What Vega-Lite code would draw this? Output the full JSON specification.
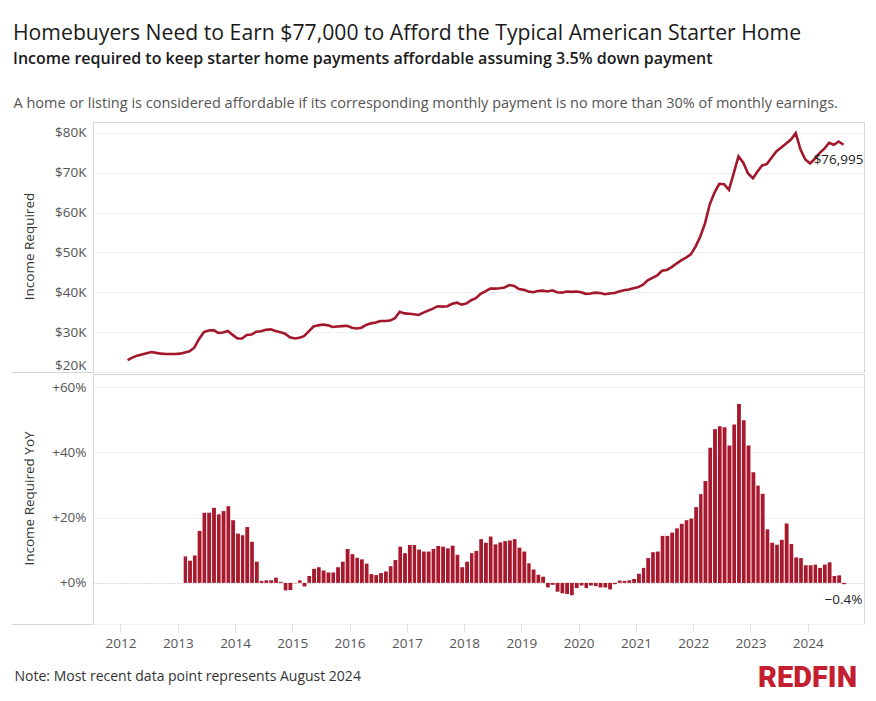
{
  "$schema": "https://vega.github.io/schema/vega-lite/v6.json",
  "background": "white",
  "padding": {"left": 10, "top": 22, "right": 6, "bottom": 10},
  "title": {
    "text": "Homebuyers Need to Earn $77,000 to Afford the Typical American Starter Home",
    "subtitle": "Income required to keep starter home payments affordable assuming 3.5% down payment",
    "anchor": "start",
    "dx": 3,
    "fontSize": 21.2,
    "fontWeight": "normal",
    "color": "#1a1a1a",
    "subtitleFontSize": 16,
    "subtitleFontWeight": 600,
    "subtitleColor": "#1a1a1a",
    "subtitlePadding": 7,
    "offset": 28
  },
  "datasets": {
    "monthly": [
      {"m": "2012-02-01", "income": 23000, "yoy": null},
      {"m": "2012-03-01", "income": 23600, "yoy": null},
      {"m": "2012-04-01", "income": 24100, "yoy": null},
      {"m": "2012-05-01", "income": 24400, "yoy": null},
      {"m": "2012-06-01", "income": 24700, "yoy": null},
      {"m": "2012-07-01", "income": 25000, "yoy": null},
      {"m": "2012-08-01", "income": 24800, "yoy": null},
      {"m": "2012-09-01", "income": 24600, "yoy": null},
      {"m": "2012-10-01", "income": 24500, "yoy": null},
      {"m": "2012-11-01", "income": 24500, "yoy": null},
      {"m": "2012-12-01", "income": 24500, "yoy": null},
      {"m": "2013-01-01", "income": 24600, "yoy": null},
      {"m": "2013-02-01", "income": 24900, "yoy": 0.081},
      {"m": "2013-03-01", "income": 25200, "yoy": 0.068},
      {"m": "2013-04-01", "income": 26100, "yoy": 0.084},
      {"m": "2013-05-01", "income": 28300, "yoy": 0.159},
      {"m": "2013-06-01", "income": 30000, "yoy": 0.215},
      {"m": "2013-07-01", "income": 30400, "yoy": 0.215},
      {"m": "2013-08-01", "income": 30500, "yoy": 0.230},
      {"m": "2013-09-01", "income": 29800, "yoy": 0.210},
      {"m": "2013-10-01", "income": 29900, "yoy": 0.220},
      {"m": "2013-11-01", "income": 30300, "yoy": 0.235},
      {"m": "2013-12-01", "income": 29300, "yoy": 0.192},
      {"m": "2014-01-01", "income": 28400, "yoy": 0.151},
      {"m": "2014-02-01", "income": 28400, "yoy": 0.146},
      {"m": "2014-03-01", "income": 29300, "yoy": 0.171},
      {"m": "2014-04-01", "income": 29400, "yoy": 0.126},
      {"m": "2014-05-01", "income": 30100, "yoy": 0.065},
      {"m": "2014-06-01", "income": 30200, "yoy": 0.006},
      {"m": "2014-07-01", "income": 30600, "yoy": 0.008},
      {"m": "2014-08-01", "income": 30700, "yoy": 0.008},
      {"m": "2014-09-01", "income": 30300, "yoy": 0.016},
      {"m": "2014-10-01", "income": 30000, "yoy": 0.003},
      {"m": "2014-11-01", "income": 29600, "yoy": -0.023},
      {"m": "2014-12-01", "income": 28700, "yoy": -0.022},
      {"m": "2015-01-01", "income": 28400, "yoy": -0.001},
      {"m": "2015-02-01", "income": 28600, "yoy": 0.008},
      {"m": "2015-03-01", "income": 29000, "yoy": -0.011},
      {"m": "2015-04-01", "income": 30200, "yoy": 0.021},
      {"m": "2015-05-01", "income": 31400, "yoy": 0.043},
      {"m": "2015-06-01", "income": 31700, "yoy": 0.048},
      {"m": "2015-07-01", "income": 31900, "yoy": 0.038},
      {"m": "2015-08-01", "income": 31700, "yoy": 0.032},
      {"m": "2015-09-01", "income": 31300, "yoy": 0.032},
      {"m": "2015-10-01", "income": 31400, "yoy": 0.048},
      {"m": "2015-11-01", "income": 31500, "yoy": 0.065},
      {"m": "2015-12-01", "income": 31600, "yoy": 0.104},
      {"m": "2016-01-01", "income": 31100, "yoy": 0.088},
      {"m": "2016-02-01", "income": 30900, "yoy": 0.077},
      {"m": "2016-03-01", "income": 31100, "yoy": 0.072},
      {"m": "2016-04-01", "income": 31800, "yoy": 0.059},
      {"m": "2016-05-01", "income": 32200, "yoy": 0.027},
      {"m": "2016-06-01", "income": 32400, "yoy": 0.024},
      {"m": "2016-07-01", "income": 32800, "yoy": 0.030},
      {"m": "2016-08-01", "income": 32800, "yoy": 0.035},
      {"m": "2016-09-01", "income": 32900, "yoy": 0.051},
      {"m": "2016-10-01", "income": 33500, "yoy": 0.070},
      {"m": "2016-11-01", "income": 35100, "yoy": 0.111},
      {"m": "2016-12-01", "income": 34700, "yoy": 0.091},
      {"m": "2017-01-01", "income": 34600, "yoy": 0.116},
      {"m": "2017-02-01", "income": 34500, "yoy": 0.116},
      {"m": "2017-03-01", "income": 34300, "yoy": 0.102},
      {"m": "2017-04-01", "income": 34900, "yoy": 0.096},
      {"m": "2017-05-01", "income": 35400, "yoy": 0.096},
      {"m": "2017-06-01", "income": 35900, "yoy": 0.104},
      {"m": "2017-07-01", "income": 36500, "yoy": 0.113},
      {"m": "2017-08-01", "income": 36400, "yoy": 0.111},
      {"m": "2017-09-01", "income": 36500, "yoy": 0.106},
      {"m": "2017-10-01", "income": 37100, "yoy": 0.114},
      {"m": "2017-11-01", "income": 37400, "yoy": 0.086},
      {"m": "2017-12-01", "income": 36900, "yoy": 0.048},
      {"m": "2018-01-01", "income": 37200, "yoy": 0.065},
      {"m": "2018-02-01", "income": 38000, "yoy": 0.091},
      {"m": "2018-03-01", "income": 38500, "yoy": 0.098},
      {"m": "2018-04-01", "income": 39600, "yoy": 0.134},
      {"m": "2018-05-01", "income": 40200, "yoy": 0.123},
      {"m": "2018-06-01", "income": 40900, "yoy": 0.142},
      {"m": "2018-07-01", "income": 40900, "yoy": 0.118},
      {"m": "2018-08-01", "income": 41000, "yoy": 0.124},
      {"m": "2018-09-01", "income": 41200, "yoy": 0.128},
      {"m": "2018-10-01", "income": 41800, "yoy": 0.130},
      {"m": "2018-11-01", "income": 41600, "yoy": 0.134},
      {"m": "2018-12-01", "income": 40800, "yoy": 0.108},
      {"m": "2019-01-01", "income": 40600, "yoy": 0.096},
      {"m": "2019-02-01", "income": 40200, "yoy": 0.060},
      {"m": "2019-03-01", "income": 40000, "yoy": 0.041},
      {"m": "2019-04-01", "income": 40300, "yoy": 0.025},
      {"m": "2019-05-01", "income": 40400, "yoy": 0.019},
      {"m": "2019-06-01", "income": 40200, "yoy": -0.014},
      {"m": "2019-07-01", "income": 40500, "yoy": -0.006},
      {"m": "2019-08-01", "income": 40000, "yoy": -0.027},
      {"m": "2019-09-01", "income": 39900, "yoy": -0.032},
      {"m": "2019-10-01", "income": 40200, "yoy": -0.034},
      {"m": "2019-11-01", "income": 40100, "yoy": -0.038},
      {"m": "2019-12-01", "income": 40200, "yoy": -0.016},
      {"m": "2020-01-01", "income": 40000, "yoy": -0.008},
      {"m": "2020-02-01", "income": 39600, "yoy": -0.016},
      {"m": "2020-03-01", "income": 39700, "yoy": -0.008},
      {"m": "2020-04-01", "income": 39900, "yoy": -0.010},
      {"m": "2020-05-01", "income": 39800, "yoy": -0.014},
      {"m": "2020-06-01", "income": 39500, "yoy": -0.014},
      {"m": "2020-07-01", "income": 39700, "yoy": -0.020},
      {"m": "2020-08-01", "income": 39800, "yoy": -0.004},
      {"m": "2020-09-01", "income": 40200, "yoy": 0.007},
      {"m": "2020-10-01", "income": 40500, "yoy": 0.006},
      {"m": "2020-11-01", "income": 40700, "yoy": 0.008},
      {"m": "2020-12-01", "income": 41000, "yoy": 0.012},
      {"m": "2021-01-01", "income": 41300, "yoy": 0.028},
      {"m": "2021-02-01", "income": 41900, "yoy": 0.046},
      {"m": "2021-03-01", "income": 43000, "yoy": 0.076},
      {"m": "2021-04-01", "income": 43600, "yoy": 0.094},
      {"m": "2021-05-01", "income": 44200, "yoy": 0.096},
      {"m": "2021-06-01", "income": 45400, "yoy": 0.144},
      {"m": "2021-07-01", "income": 45600, "yoy": 0.144},
      {"m": "2021-08-01", "income": 46300, "yoy": 0.154},
      {"m": "2021-09-01", "income": 47200, "yoy": 0.167},
      {"m": "2021-10-01", "income": 48000, "yoy": 0.181},
      {"m": "2021-11-01", "income": 48700, "yoy": 0.192},
      {"m": "2021-12-01", "income": 49500, "yoy": 0.197},
      {"m": "2022-01-01", "income": 51500, "yoy": 0.232},
      {"m": "2022-02-01", "income": 54000, "yoy": 0.272},
      {"m": "2022-03-01", "income": 57200, "yoy": 0.312},
      {"m": "2022-04-01", "income": 62000, "yoy": 0.414},
      {"m": "2022-05-01", "income": 65000, "yoy": 0.471},
      {"m": "2022-06-01", "income": 67200, "yoy": 0.480},
      {"m": "2022-07-01", "income": 67100, "yoy": 0.477},
      {"m": "2022-08-01", "income": 65700, "yoy": 0.421},
      {"m": "2022-09-01", "income": 69800, "yoy": 0.485},
      {"m": "2022-10-01", "income": 74100, "yoy": 0.548},
      {"m": "2022-11-01", "income": 72500, "yoy": 0.498},
      {"m": "2022-12-01", "income": 69800, "yoy": 0.421},
      {"m": "2023-01-01", "income": 68600, "yoy": 0.339},
      {"m": "2023-02-01", "income": 70300, "yoy": 0.298},
      {"m": "2023-03-01", "income": 71800, "yoy": 0.273},
      {"m": "2023-04-01", "income": 72200, "yoy": 0.164},
      {"m": "2023-05-01", "income": 73800, "yoy": 0.123},
      {"m": "2023-06-01", "income": 75400, "yoy": 0.117},
      {"m": "2023-07-01", "income": 76300, "yoy": 0.132},
      {"m": "2023-08-01", "income": 77300, "yoy": 0.182},
      {"m": "2023-09-01", "income": 78300, "yoy": 0.119},
      {"m": "2023-10-01", "income": 79900, "yoy": 0.078},
      {"m": "2023-11-01", "income": 75800, "yoy": 0.076},
      {"m": "2023-12-01", "income": 73300, "yoy": 0.054},
      {"m": "2024-01-01", "income": 72300, "yoy": 0.054},
      {"m": "2024-02-01", "income": 73500, "yoy": 0.056},
      {"m": "2024-03-01", "income": 74900, "yoy": 0.046},
      {"m": "2024-04-01", "income": 76000, "yoy": 0.056},
      {"m": "2024-05-01", "income": 77500, "yoy": 0.063},
      {"m": "2024-06-01", "income": 77000, "yoy": 0.021},
      {"m": "2024-07-01", "income": 77800, "yoy": 0.023},
      {"m": "2024-08-01", "income": 76995, "yoy": -0.004}
    ]
  },
  "data": {"name": "monthly"},
  "spacing": 0,
  "vconcat": [
    {
      "width": 771,
      "height": 250,
      "title": {
        "text": "A home or listing is considered affordable if its corresponding monthly payment is no more than 30% of monthly earnings.",
        "anchor": "start",
        "dx": 3,
        "fontSize": 14.5,
        "fontWeight": "normal",
        "color": "#555555",
        "offset": 11
      },
      "layer": [
        {
          "mark": {"type": "line", "color": "#a3172c", "strokeWidth": 2.6},
          "encoding": {
            "x": {
              "field": "m",
              "timeUnit": "utcyearmonth",
              "type": "temporal",
              "bandPosition": 0.5,
              "scale": {"domain": [{"year": 2011, "month": 7, "date": 10, "utc": true}, {"year": 2024, "month": 12, "date": 25, "utc": true}]},
              "axis": null
            },
            "y": {
              "field": "income",
              "type": "quantitative",
              "scale": {"domain": [20000, 82700], "nice": false, "zero": false},
              "axis": {
                "values": [20000, 30000, 40000, 50000, 60000, 70000, 80000],
                "labelExpr": "'$' + format(datum.value / 1000, 'd') + 'K'",
                "labelOverlap": false,
                "title": "Income Required",
                "titleX": -64,
                "titleY": 124,
                "titleAngle": -90,
                "titleAlign": "center",
                "titleBaseline": "middle",
                "titleFontSize": 13.5,
                "titleFontWeight": "normal",
                "titleColor": "#333333",
                "labelColor": "#555555",
                "labelFontSize": 13.5,
                "labelFlush": true,
                "labelPadding": -75,
                "ticks": true,
                "tickSize": 82,
                "tickColor": {"condition": {"test": "datum.value === 20000", "value": "#d6d6d6"}, "value": "transparent"},
                "domain": false,
                "gridColor": "#efefef"
              }
            }
          }
        },
        {
          "transform": [{"filter": "utcyear(toDate(datum.m)) == 2024 && utcmonth(toDate(datum.m)) == 7"}],
          "mark": {"type": "text", "dy": 15, "dx": -5, "fontSize": 13.5, "color": "#222222"},
          "encoding": {
            "x": {"field": "m", "timeUnit": "utcyearmonth", "type": "temporal", "bandPosition": 0.5},
            "y": {"field": "income", "type": "quantitative"},
            "text": {"field": "income", "format": "$,.0f"}
          }
        }
      ]
    },
    {
      "width": 771,
      "height": 250,
      "title": {
        "text": "REDFIN",
        "orient": "bottom",
        "anchor": "end",
        "dx": -7,
        "dy": -19,
        "font": "Roboto",
        "fontSize": 29,
        "fontWeight": 900,
        "color": "#c41f30",
        "offset": 0
      },
      "layer": [
        {
          "transform": [{"filter": "isValid(datum.yoy)"}],
          "mark": {"type": "bar", "color": "#a8192e"},
          "encoding": {
            "x": {
              "field": "m",
              "timeUnit": "utcyearmonth",
              "type": "temporal",
              "scale": {"domain": [{"year": 2011, "month": 7, "date": 10, "utc": true}, {"year": 2024, "month": 12, "date": 25, "utc": true}]},
              "axis": {
                "format": "%Y",
                "tickCount": {"interval": "year", "step": 1},
                "labelColor": "#555555",
                "labelFontSize": 13.5,
                "labelPadding": 4,
                "domain": false,
                "grid": false,
                "tickColor": "#e2e2e2",
                "tickSize": 8,
                "title": "Note: Most recent data point represents August 2024",
                "titleX": -79,
                "titleY": 52,
                "titleAlign": "left",
                "titleBaseline": "middle",
                "titleFontSize": 14,
                "titleFontWeight": "normal",
                "titleColor": "#333333"
              }
            },
            "y": {
              "field": "yoy",
              "type": "quantitative",
              "scale": {"domain": [-0.126, 0.64], "nice": false, "zero": false},
              "axis": {
                "values": [-0.126, 0, 0.2, 0.4, 0.6],
                "labelExpr": "datum.value < 0 ? '' : format(datum.value, '+.0%')",
                "labelOverlap": false,
                "title": "Income Required YoY",
                "titleX": -64,
                "titleY": 124,
                "titleAngle": -90,
                "titleAlign": "center",
                "titleBaseline": "middle",
                "titleFontSize": 13.5,
                "titleFontWeight": "normal",
                "titleColor": "#333333",
                "labelColor": "#555555",
                "labelFontSize": {"condition": {"test": "datum.value < 0", "value": 0}, "value": 13.5},
                "labelPadding": -75,
                "ticks": true,
                "tickSize": 82,
                "tickColor": {"condition": {"test": "datum.value < 0", "value": "#d6d6d6"}, "value": "transparent"},
                "domain": false,
                "gridColor": {"condition": {"test": "datum.value === 0", "value": "#b5b5b5"}, "value": "#efefef"},
                "gridDash": {"condition": {"test": "datum.value === 0", "value": [1, 2]}, "value": []}
              }
            }
          }
        },
        {
          "transform": [{"filter": "utcyear(toDate(datum.m)) == 2024 && utcmonth(toDate(datum.m)) == 7"}],
          "mark": {"type": "text", "dy": 16, "fontSize": 13.5, "color": "#222222"},
          "encoding": {
            "x": {"field": "m", "timeUnit": "utcyearmonth", "type": "temporal", "bandPosition": 0.5},
            "y": {"field": "yoy", "type": "quantitative"},
            "text": {"field": "yoy", "format": "+.1%"}
          }
        }
      ]
    }
  ],
  "config": {
    "font": "Open Sans",
    "view": {"stroke": "#d6d6d6", "strokeWidth": 1},
    "axis": {"labelFont": "Open Sans", "titleFont": "Open Sans", "labelOverlap": false},
    "title": {"font": "Open Sans", "subtitleFont": "Open Sans"},
    "text": {"font": "Open Sans"}
  }
}
